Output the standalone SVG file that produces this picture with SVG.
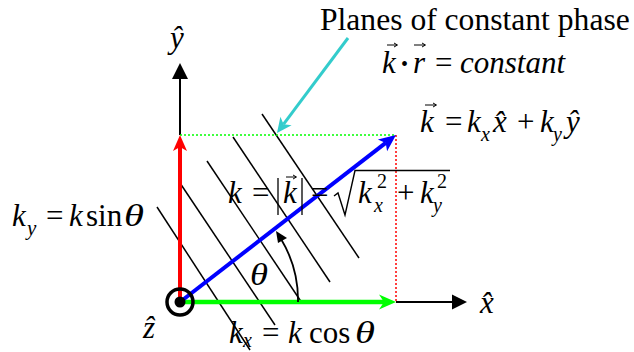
<svg xmlns="http://www.w3.org/2000/svg" width="634" height="352" viewBox="0 0 634 352">
<style>
.m{font-family:"Liberation Serif","Times New Roman",serif;font-size:31px;fill:#000}
.i{font-style:italic}
.s{font-size:20px}
.pl{stroke:#000;stroke-width:1.5;fill:none}
.va{stroke:#000;stroke-width:1;fill:none}
</style>
<rect width="634" height="352" fill="#fff"/>
<g id="planes">
<line class="pl" x1="262" y1="114" x2="359" y2="258"/>
<line class="pl" x1="233" y1="137" x2="330" y2="282"/>
<line class="pl" x1="207" y1="161" x2="302" y2="303"/>
<line class="pl" x1="180" y1="183" x2="275" y2="325"/>
<line class="pl" x1="157" y1="207" x2="250" y2="350"/>
</g>
<g id="axes">
<line x1="180" y1="135" x2="180" y2="78" stroke="#000" stroke-width="2"/>
<polygon points="180,63 172,79 188,79" fill="#000"/>
<line x1="396" y1="302" x2="453" y2="302" stroke="#000" stroke-width="2"/>
<polygon points="467,302 452,294.5 452,309.5" fill="#000"/>
</g>
<g id="guides">
<line x1="180" y1="135" x2="396" y2="135" stroke="#00ff00" stroke-width="1.5" stroke-dasharray="2 2"/>
<line x1="396" y1="135" x2="396" y2="302" stroke="#ff0000" stroke-width="1.5" stroke-dasharray="2 2"/>
</g>
<g id="ky">
<line x1="180" y1="302" x2="180" y2="146" stroke="#ff0000" stroke-width="4"/>
<polygon points="180,135 173,151 180,147 187,151" fill="#ff0000"/>
</g>
<g id="kx">
<line x1="180" y1="302" x2="385" y2="302" stroke="#00ff00" stroke-width="4.5"/>
<polygon points="396,302 379,294.5 384,302 379,309.5" fill="#00ff00"/>
</g>
<g id="kvec">
<line x1="180" y1="302" x2="385.7" y2="142.9" stroke="#0000ff" stroke-width="4"/>
<polygon points="396,135 387.1,151.3 385.7,142.9 377.9,139.4" fill="#0000ff"/>
</g>
<g id="angle">
<path d="M298,302 A118,118 0 0 0 281,239" fill="none" stroke="#000" stroke-width="1.8"/>
<polygon points="276,231 287,238 278,243" fill="#000"/>
</g>
<g id="origin">
<circle cx="180" cy="302" r="13" fill="none" stroke="#000" stroke-width="3.5"/>
<circle cx="180" cy="302" r="5.5" fill="#000"/>
</g>
<g id="connectors">
<line x1="348" y1="38" x2="283.6" y2="124.2" stroke="#33cccc" stroke-width="3"/>
<polygon points="277,133 291.6,125.2 283.6,124.2 280.4,116.8" fill="#33cccc"/>
</g>
<g id="labels">
<text class="m" x="320" y="30" style="font-size:31.6px">Planes of constant phase</text>
<text class="m i" x="170" y="48">y&#x302;</text>
<text class="m i" x="480" y="313">x&#x302;</text>
<text class="m i" x="143" y="338">z&#x302;</text>
<text class="m i" x="250" y="285" textLength="18" lengthAdjust="spacingAndGlyphs">θ</text>
<g id="eq-kdotr">
<text class="m" y="73"><tspan class="i" x="382">k</tspan><tspan x="401" y="71" style="font-size:20px">•</tspan><tspan class="i" x="413" y="73">r</tspan><tspan x="435">=</tspan><tspan class="i" x="460">constant</tspan></text>
<path class="va" d="M387,45 H397 M394,43 L397.5,45 L394,47"/>
<path class="va" d="M414,45 H425 M422,43 L425.5,45 L422,47"/>
</g>
<g id="eq-k">
<text class="m" y="132"><tspan class="i" x="420">k</tspan><tspan x="445">=</tspan><tspan class="i" x="467">k</tspan><tspan class="i s" x="481" y="141">x</tspan><tspan class="i" x="493" y="132">x&#x302;</tspan><tspan x="517">+</tspan><tspan class="i" x="540">k</tspan><tspan class="i s" x="553" y="141">y</tspan><tspan class="i" x="566" y="132">y&#x302;</tspan></text>
<path class="va" d="M425,105 H436 M433,103 L436.5,105 L433,107"/>
</g>
<g id="eq-mag">
<text class="m" y="203"><tspan class="i" x="228">k</tspan><tspan x="252">=</tspan><tspan class="i" x="283">k</tspan><tspan x="311">=</tspan><tspan class="i" x="358">k</tspan><tspan class="s" x="377" y="188">2</tspan><tspan class="i s" x="374" y="212">x</tspan><tspan x="397" y="203">+</tspan><tspan class="i" x="420">k</tspan><tspan class="s" x="437" y="188">2</tspan><tspan class="i s" x="433" y="212">y</tspan></text>
<path class="va" d="M286,177 H296 M293,175 L296.5,177 L293,179"/>
<line x1="278" y1="178" x2="278" y2="215" stroke="#000" stroke-width="1.3"/>
<line x1="302" y1="178" x2="302" y2="215" stroke="#000" stroke-width="1.3"/>
<polyline points="334,196 338,193 345,215 355,170.5 450,170.5" fill="none" stroke="#000" stroke-width="1.4"/>
</g>
<g id="eq-ky">
<text class="m" y="226"><tspan class="i" x="12">k</tspan><tspan class="i" x="27" y="235" style="font-size:21px">y</tspan><tspan x="46" y="226">=</tspan><tspan class="i" x="69">k</tspan><tspan x="86">sin</tspan><tspan class="i" x="124" textLength="20" lengthAdjust="spacingAndGlyphs">θ</tspan></text>
</g>
<g id="eq-kx">
<text class="m" y="343"><tspan class="i" x="229">k</tspan><tspan class="i s" x="243" y="347">x</tspan><tspan x="262" y="343">=</tspan><tspan class="i" x="288">k</tspan><tspan x="309">cos</tspan><tspan class="i" x="355" textLength="20" lengthAdjust="spacingAndGlyphs">θ</tspan></text>
</g>
</g>
</svg>
